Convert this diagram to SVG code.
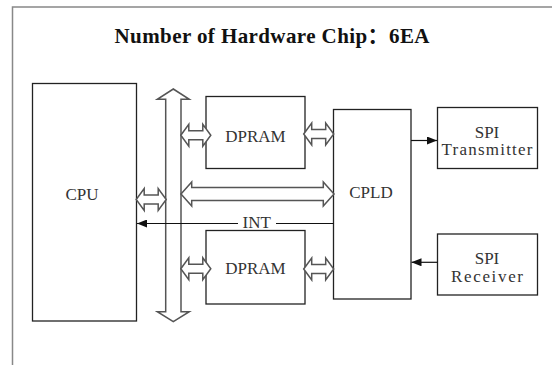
<svg xmlns="http://www.w3.org/2000/svg" xmlns:xlink="http://www.w3.org/1999/xlink" width="552" height="365" viewBox="0 0 552 365">
<style>
.box{fill:#fff;stroke:#222;stroke-width:1.3}
.hol{fill:#fff;stroke:#555;stroke-width:1.5;stroke-linejoin:miter}
.ln{stroke:#111;stroke-width:1.2;fill:none}
</style>
<defs>
<path id="dbl" d="M-15,0 L-7,-11 L-7,-4.5 L7,-4.5 L7,-11 L15,0 L7,11 L7,4.5 L-7,4.5 L-7,11 Z"/>
<marker id="ah" viewBox="0 0 10 8" refX="10" refY="4" markerWidth="10" markerHeight="8" markerUnits="userSpaceOnUse" orient="auto">
<path d="M0,0 L10,4 L0,8 Z" fill="#111"/>
</marker>
</defs>
<rect width="552" height="365" fill="#fff"/>
<g id="frame" stroke="#888" stroke-width="1.5" fill="none">
<path d="M12.5,365 L12.5,7 L552,7"/>
</g>
<text x="272" y="42.5" font-family="'Liberation Serif', 'Noto Sans CJK SC', serif" font-size="21" font-weight="bold" fill="#111" text-anchor="middle" textLength="315" lengthAdjust="spacing">Number of Hardware Chip：6EA</text>
<g font-family="'Liberation Serif', serif" font-size="17" fill="#333" text-anchor="middle">
<g id="cpu"><rect class="box" x="32.5" y="83.5" width="104" height="237.5"/><text x="82" y="200">CPU</text></g>
<g id="dpram1"><rect class="box" x="206" y="96.5" width="99" height="72"/><text x="255.5" y="141.5">DPRAM</text></g>
<g id="dpram2"><rect class="box" x="206" y="230.5" width="99" height="73.5"/><text x="255.5" y="273.5">DPRAM</text></g>
<g id="cpld"><rect class="box" x="333.5" y="109.5" width="77.5" height="189.5"/><text x="371" y="198">CPLD</text></g>
<g id="spitx"><rect class="box" x="437.5" y="107.5" width="100" height="61"/><text x="487" y="137.7">SPI</text><text x="487" y="155" textLength="91" lengthAdjust="spacing">Transmitter</text></g>
<g id="spirx"><rect class="box" x="437.5" y="234" width="100" height="61"/><text x="487" y="264">SPI</text><text x="487" y="281.5" textLength="72" lengthAdjust="spacing">Receiver</text></g>
<g id="connectors">
<path class="hol" d="M173.3,89 L189.3,99.3 L181,99.3 L181,311.7 L189.3,311.7 L173.3,321.7 L157.3,311.7 L165.7,311.7 L165.7,99.3 L157.3,99.3 Z"/>
<path class="hol" d="M181,194 L191.7,182 L191.7,187.5 L323.3,187.5 L323.3,182 L334,194 L323.3,206 L323.3,200.5 L191.7,200.5 L191.7,206 Z"/>
<use xlink:href="#dbl" class="hol" x="151.2" y="199.5"/>
<use xlink:href="#dbl" class="hol" x="195.8" y="135.3"/>
<use xlink:href="#dbl" class="hol" x="318.7" y="134"/>
<use xlink:href="#dbl" class="hol" x="195.8" y="268.8"/>
<use xlink:href="#dbl" class="hol" x="318.7" y="269"/>
<path class="ln" d="M411,140.5 L437,140.5" marker-end="url(#ah)"/>
<path class="ln" d="M437.5,262.3 L411.5,262.3" marker-end="url(#ah)"/>
<path class="ln" d="M333.5,223.5 L276,223.5"/>
<path class="ln" d="M238,223.5 L137,223.5" marker-end="url(#ah)"/>
<text x="256.7" y="227.5">INT</text>
</g>
</g>
</svg>
